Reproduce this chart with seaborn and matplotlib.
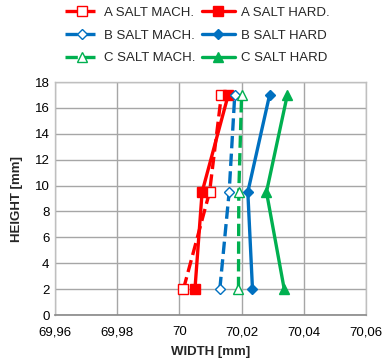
import matplotlib
matplotlib.use("Agg")
import matplotlib.pyplot as plt
import matplotlib.ticker as mticker
import seaborn as sns
import pandas as pd

heights = [2, 9.5, 17]
a_mach = [70.0013, 70.0097, 70.0135]
a_hard = [70.0050, 70.0073, 70.0157]
b_mach = [70.0130, 70.0160, 70.0178]
b_hard = [70.0235, 70.0220, 70.0290]
c_mach = [70.0190, 70.0191, 70.0200]
c_hard = [70.0337, 70.0280, 70.0347]

labels = ["A SALT MACH.", "A SALT HARD.", "B SALT MACH.", "B SALT HARD",
          "C SALT MACH.", "C SALT HARD"]
series = [a_mach, a_hard, b_mach, b_hard, c_mach, c_hard]

sns.set_theme(style="white")
plt.rcParams['font.family'] = ['Liberation Sans', 'DejaVu Sans']

fig = plt.figure(figsize=(3.83, 3.62), dpi=100)
ax = fig.add_axes([55/383, 1-315/362, (366-55)/383, (315-82)/362])

red, blue, green = "#FF0000", "#0070C0", "#00B050"
styles = [
    dict(color=red, marker="s", ls="--", filled=False, ms=7),
    dict(color=red, marker="s", ls="-", filled=True, ms=7),
    dict(color=blue, marker="D", ls="--", filled=False, ms=5.5),
    dict(color=blue, marker="D", ls="-", filled=True, ms=5.5),
    dict(color=green, marker="^", ls="--", filled=False, ms=7),
    dict(color=green, marker="^", ls="-", filled=True, ms=7),
]

handles = {}
for lab, vals, st in zip(labels, series, styles):
    df = pd.DataFrame({"w": vals, "h": heights})
    sns.lineplot(data=df, x="w", y="h", sort=False, orient="y", ax=ax,
                 color=st["color"], linestyle=st["ls"], linewidth=2.4,
                 marker=st["marker"], markersize=st["ms"],
                 markerfacecolor=st["color"] if st["filled"] else "white",
                 markeredgecolor=st["color"], markeredgewidth=1.0,
                 label=lab, legend=False)
    handles[lab] = ax.lines[-1]

ax.set_xlim(69.96, 70.06)
ax.set_ylim(0, 18)
ax.set_xticks([69.96, 69.98, 70.00, 70.02, 70.04, 70.06])
ax.set_yticks(range(0, 19, 2))
ax.xaxis.set_major_formatter(mticker.FuncFormatter(
    lambda v, p: ("%.2f" % v).rstrip("0").rstrip(".").replace(".", ",")))
ax.grid(True, color="#A6A6A6", linewidth=1.0)
for s in ["left", "top", "right"]:
    ax.spines[s].set_color("#BFBFBF")
    ax.spines[s].set_linewidth(1.0)
ax.spines["bottom"].set_color("#8C8C8C")
ax.tick_params(axis="both", labelsize=9.5, colors="#000000", length=0, pad=4)
ax.tick_params(axis="x", pad=8)
ax.set_xlabel("WIDTH [mm]", fontsize=9.5, fontweight="bold", labelpad=6)
ax.set_ylabel("HEIGHT [mm]", fontsize=9.5, fontweight="bold", labelpad=8)

order = ["A SALT MACH.", "B SALT MACH.", "C SALT MACH.",
         "A SALT HARD.", "B SALT HARD", "C SALT HARD"]
fig.legend([handles[k] for k in order], order, loc="upper center",
           bbox_to_anchor=(0.515, 1.0), ncol=2, frameon=False, fontsize=9.5,
           handlelength=2.5, handletextpad=0.45, columnspacing=0.45,
           labelspacing=0.8, borderaxespad=0.1)

fig.savefig("out.png", dpi=100)
